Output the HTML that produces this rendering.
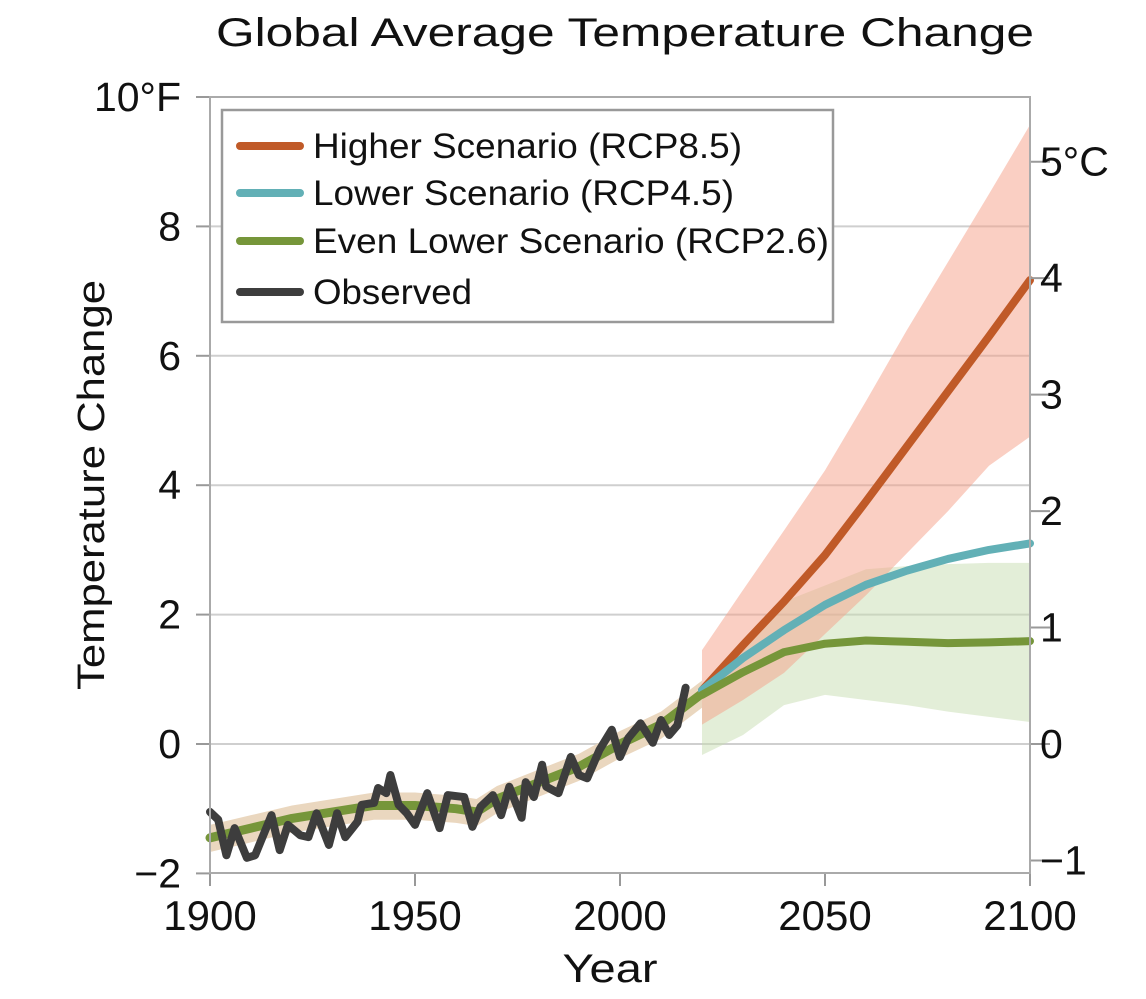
<!DOCTYPE html>
<html><head><meta charset="utf-8"><style>
body{margin:0;background:#fff}
svg text{font-family:"Liberation Sans",Arial,sans-serif;fill:#111}
</style></head><body>
<svg width="1146" height="994" viewBox="0 0 1146 994">
<g id="grid"></g>
<g id="bands"></g>
<g id="lines"></g>
<g id="axes"></g>
<text x="625" y="46" font-size="40" text-anchor="middle" textLength="818" lengthAdjust="spacingAndGlyphs">Global Average Temperature Change</text>
<text transform="translate(104,485) rotate(-90)" font-size="38" text-anchor="middle" textLength="410" lengthAdjust="spacingAndGlyphs">Temperature Change</text>
<text x="610" y="982" font-size="40" text-anchor="middle" textLength="95" lengthAdjust="spacingAndGlyphs">Year</text>
<g>
<rect x="222" y="110" width="611" height="212" fill="#fff" stroke="#999" stroke-width="2.5"/>
<g><line x1="240" y1="146" x2="300" y2="146" stroke="#c05a28" stroke-width="8" stroke-linecap="round"/><text x="313" y="158" font-size="35" textLength="429" lengthAdjust="spacingAndGlyphs">Higher Scenario (RCP8.5)</text></g>
<g><line x1="240" y1="193" x2="300" y2="193" stroke="#62b0b6" stroke-width="8" stroke-linecap="round"/><text x="313" y="205" font-size="35" textLength="421" lengthAdjust="spacingAndGlyphs">Lower Scenario (RCP4.5)</text></g>
<g><line x1="240" y1="241" x2="300" y2="241" stroke="#76963a" stroke-width="8" stroke-linecap="round"/><text x="313" y="253" font-size="35" textLength="516" lengthAdjust="spacingAndGlyphs">Even Lower Scenario (RCP2.6)</text></g>
<g><line x1="240" y1="292" x2="300" y2="292" stroke="#3d3d3d" stroke-width="8" stroke-linecap="round"/><text x="313" y="304" font-size="35" textLength="159" lengthAdjust="spacingAndGlyphs">Observed</text></g>
</g>
</svg>
<script>
const xTicks=[1900,1950,2000,2050,2100];
const yTicksF=[-2,0,2,4,6,8,10];
const yTickLabelsF=["\u22122","0","2","4","6","8","10\u00b0F"];
const yTicksC=[-1,0,1,2,3,4,5];
const yTickLabelsC=["\u22121","0","1","2","3","4","5\u00b0C"];
const histYears=[1900,1910,1920,1930,1940,1950,1960,1965,1970,1980,1990,2000,2010,2020];
const histMean=[-1.45,-1.3,-1.15,-1.05,-0.95,-0.95,-1.0,-1.05,-0.85,-0.6,-0.35,0.0,0.3,0.78];
const futYears=[2020,2030,2040,2050,2060,2070,2080,2090,2100];
const rcp85=[0.83,1.53,2.2,2.92,3.75,4.6,5.45,6.3,7.17];
const rcp85Hi=[1.45,2.38,3.3,4.23,5.3,6.4,7.45,8.5,9.57];
const rcp85Lo=[0.3,0.68,1.1,1.7,2.3,2.95,3.6,4.3,4.75];
const rcp45=[0.83,1.33,1.76,2.15,2.46,2.68,2.86,3.0,3.1];
const rcp26=[0.76,1.11,1.42,1.55,1.6,1.58,1.56,1.57,1.59];
const rcp26Hi=[0.83,1.6,2.2,2.45,2.7,2.75,2.78,2.8,2.8];
const rcp26Lo=[-0.17,0.14,0.6,0.76,0.68,0.6,0.5,0.42,0.34];
const obsYears=[1900,1902,1904,1906,1909,1911,1915,1917,1919,1922,1924,1926,1929,1931,1933,1936,1937,1940,1941,1943,1944,1946,1948,1950,1953,1956,1958,1962,1964,1966,1969,1971,1973,1976,1977,1979,1981,1982,1985,1988,1990,1992,1995,1998,2000,2002,2005,2008,2010,2012,2014,2016];
const obsVals=[-1.05,-1.17,-1.72,-1.3,-1.76,-1.72,-1.1,-1.64,-1.25,-1.41,-1.44,-1.07,-1.56,-1.07,-1.44,-1.2,-0.94,-0.91,-0.68,-0.76,-0.48,-0.94,-1.07,-1.25,-0.76,-1.3,-0.79,-0.82,-1.28,-0.97,-0.79,-1.1,-0.66,-1.14,-0.59,-0.82,-0.32,-0.66,-0.76,-0.2,-0.48,-0.53,-0.09,0.22,-0.2,0.09,0.32,0.02,0.37,0.14,0.29,0.87];

const X=y=>210+(y-1900)*4.1;
const YF=f=>744-f*64.7;
const YC=c=>744-c*1.8*64.7;
const NS="http://www.w3.org/2000/svg";
function mk(tag,attrs,parent){const e=document.createElementNS(NS,tag);for(const k in attrs)e.setAttribute(k,attrs[k]);parent.appendChild(e);return e;}
const grid=document.getElementById('grid'),bands=document.getElementById('bands'),lines=document.getElementById('lines'),axes=document.getElementById('axes');
yTicksF.forEach((v,i)=>{
  if(v>-2&&v<10){const g=mk('line',{x1:210,x2:1030,y1:YF(v),y2:YF(v),stroke:'#cfcfcf','stroke-width':2},grid);
  
  }
  mk('line',{x1:196,x2:210,y1:YF(v),y2:YF(v),stroke:'#999','stroke-width':2},axes);
  const t=mk('text',{x:181,y:YF(v)+14,'font-size':41,'text-anchor':'end'},axes);t.textContent=yTickLabelsF[i];
  
  
});
yTicksC.forEach((v,i)=>{
  mk('line',{x1:1030,x2:1050,y1:YC(v),y2:YC(v),stroke:'#999','stroke-width':2},axes);
  const t=mk('text',{x:1040,y:YC(v)+14,'font-size':41},axes);t.textContent=yTickLabelsC[i];
  
  
});
xTicks.forEach(v=>{
  mk('line',{x1:X(v),x2:X(v),y1:873,y2:886,stroke:'#999','stroke-width':2},axes);
  const t=mk('text',{x:X(v),y:930,'font-size':42,'text-anchor':'middle'},axes);t.textContent=v;
  
  
});
mk('rect',{x:210,y:97,width:820,height:776,fill:'none',stroke:'#aaa','stroke-width':2},axes);
function band(xs,hi,lo,fill,name){
  let d='M'+xs.map((y,i)=>X(y)+','+YF(hi[i])).join('L');
  for(let i=xs.length-1;i>=0;i--)d+='L'+X(xs[i])+','+YF(lo[i]);
  const p=mk('path',{d:d+'Z',fill:fill},bands);
  
  
}
band(futYears,rcp26Hi,rcp26Lo,'rgba(200,222,178,0.5)','rcp26-band');
band(futYears,rcp85Hi,rcp85Lo,'rgba(245,160,135,0.5)','rcp85-band');
band(histYears,histMean.map(v=>v+0.2),histMean.map(v=>v-0.22),'#ead7bf','historical-band');
function line(xs,ys,col,w,name){
  const p=mk('polyline',{points:xs.map((y,i)=>X(y)+','+YF(ys[i])).join(' '),fill:'none',stroke:col,'stroke-width':w,'stroke-linejoin':'round','stroke-linecap':'round'},lines);
  
  
}
line(histYears,histMean,'#76963a',9,'historical-model-line');
line(futYears,rcp85,'#c05a28',8,'rcp85-line');
line(futYears,rcp45,'#62b0b6',8,'rcp45-line');
line(futYears,rcp26,'#76963a',8,'rcp26-line');
line(obsYears,obsVals,'#3d3d3d',8,'observed-line');
</script>
</body></html>
